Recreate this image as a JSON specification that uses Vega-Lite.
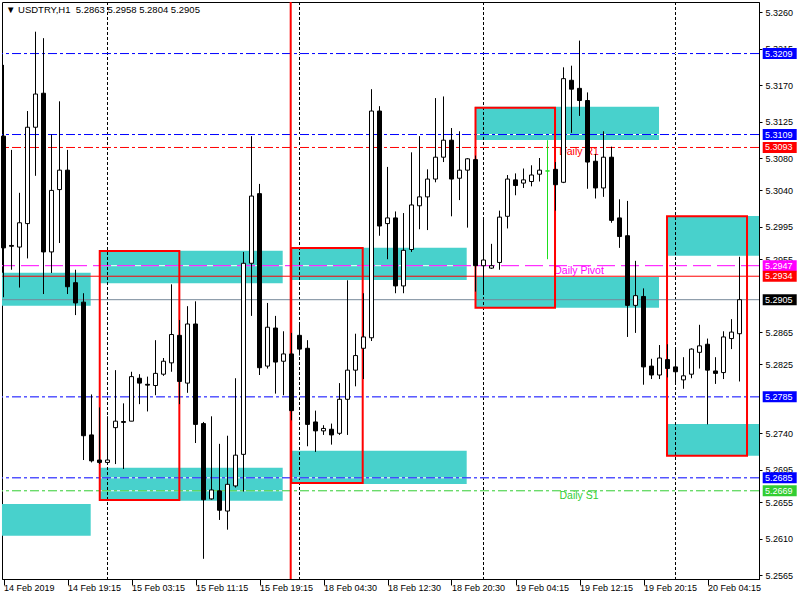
{
  "$schema": "https://vega.github.io/schema/vega-lite/v6.json",
  "width": 757,
  "height": 577,
  "autosize": "none",
  "padding": {"left": 2, "top": 2, "right": 41, "bottom": 21},
  "background": "white",
  "title": {"text": "▼ USDTRY,H1\u00a0\u00a05.2863 5.2958 5.2804 5.2905", "anchor": "start", "frame": "group", "offset": -13, "dx": 4, "font": "Liberation Sans", "fontSize": 9.5, "fontWeight": "normal", "color": "black"},
  "config": {
    "view": {"stroke": "black", "strokeWidth": 1},
    "axis": {"grid": false, "domainColor": "black", "tickColor": "black", "labelColor": "black", "labelFont": "Liberation Sans", "labelFontSize": 9}
  },
  "datasets": {
    "candles": [
      {"i":0,"o":5.3107,"h":5.3195,"l":5.2908,"c":5.2969},
      {"i":1,"o":5.2972,"h":5.3090,"l":5.2942,"c":5.2971},
      {"i":2,"o":5.2970,"h":5.3037,"l":5.2920,"c":5.3000},
      {"i":3,"o":5.2999,"h":5.3138,"l":5.2956,"c":5.3118},
      {"i":4,"o":5.3118,"h":5.3236,"l":5.3058,"c":5.3159},
      {"i":5,"o":5.3160,"h":5.3228,"l":5.2912,"c":5.2964},
      {"i":6,"o":5.2964,"h":5.3109,"l":5.2938,"c":5.3040},
      {"i":7,"o":5.3041,"h":5.3150,"l":5.2975,"c":5.3065},
      {"i":8,"o":5.3065,"h":5.3090,"l":5.2912,"c":5.2921},
      {"i":9,"o":5.2926,"h":5.2942,"l":5.2886,"c":5.2901},
      {"i":10,"o":5.2902,"h":5.2913,"l":5.2707,"c":5.2737},
      {"i":11,"o":5.2738,"h":5.2788,"l":5.2704,"c":5.2706},
      {"i":12,"o":5.2707,"h":5.2772,"l":5.2702,"c":5.2704},
      {"i":13,"o":5.2704,"h":5.2761,"l":5.2701,"c":5.2707},
      {"i":14,"o":5.2747,"h":5.2818,"l":5.2702,"c":5.2755},
      {"i":15,"o":5.27545,"h":5.2777,"l":5.2696,"c":5.27535},
      {"i":16,"o":5.2755,"h":5.2816,"l":5.2755,"c":5.2810},
      {"i":17,"o":5.2808,"h":5.2813,"l":5.2776,"c":5.2802},
      {"i":18,"o":5.28005,"h":5.2810,"l":5.2767,"c":5.27995},
      {"i":19,"o":5.2799,"h":5.2855,"l":5.2787,"c":5.2814},
      {"i":20,"o":5.2813,"h":5.2833,"l":5.2811,"c":5.2829},
      {"i":21,"o":5.2827,"h":5.2924,"l":5.2816,"c":5.2862},
      {"i":22,"o":5.2861,"h":5.2880,"l":5.2776,"c":5.2804},
      {"i":23,"o":5.2802,"h":5.2897,"l":5.2790,"c":5.2875},
      {"i":24,"o":5.2875,"h":5.2903,"l":5.2728,"c":5.2751},
      {"i":25,"o":5.2752,"h":5.2754,"l":5.2585,"c":5.2658},
      {"i":26,"o":5.2659,"h":5.2761,"l":5.2658,"c":5.2670},
      {"i":27,"o":5.2669,"h":5.2727,"l":5.2633,"c":5.2645},
      {"i":28,"o":5.2644,"h":5.2737,"l":5.2621,"c":5.2677},
      {"i":29,"o":5.2675,"h":5.2808,"l":5.2673,"c":5.2713},
      {"i":30,"o":5.2714,"h":5.2964,"l":5.2668,"c":5.2950},
      {"i":31,"o":5.2950,"h":5.3107,"l":5.2885,"c":5.3033},
      {"i":32,"o":5.3036,"h":5.3048,"l":5.2812,"c":5.2821},
      {"i":33,"o":5.2823,"h":5.2901,"l":5.2820,"c":5.2871},
      {"i":34,"o":5.2870,"h":5.2885,"l":5.2789,"c":5.2828},
      {"i":35,"o":5.2829,"h":5.2866,"l":5.2787,"c":5.2838},
      {"i":36,"o":5.2838,"h":5.2864,"l":5.2756,"c":5.2768},
      {"i":37,"o":5.2861,"h":5.2874,"l":5.2836,"c":5.2844},
      {"i":38,"o":5.2845,"h":5.2855,"l":5.2724,"c":5.2751},
      {"i":39,"o":5.2754,"h":5.2768,"l":5.2717,"c":5.2743},
      {"i":40,"o":5.2743,"h":5.2750,"l":5.2738,"c":5.2746},
      {"i":41,"o":5.2745,"h":5.2752,"l":5.2726,"c":5.2738},
      {"i":42,"o":5.2740,"h":5.2802,"l":5.2738,"c":5.2782},
      {"i":43,"o":5.2782,"h":5.2929,"l":5.2738,"c":5.2818},
      {"i":44,"o":5.2818,"h":5.2863,"l":5.2798,"c":5.2836},
      {"i":45,"o":5.2845,"h":5.2913,"l":5.2807,"c":5.2859},
      {"i":46,"o":5.2858,"h":5.3165,"l":5.2854,"c":5.3138},
      {"i":47,"o":5.3138,"h":5.3144,"l":5.2984,"c":5.2996},
      {"i":48,"o":5.2999,"h":5.3069,"l":5.2955,"c":5.3006},
      {"i":49,"o":5.3006,"h":5.3014,"l":5.2913,"c":5.2922},
      {"i":50,"o":5.2922,"h":5.3012,"l":5.2913,"c":5.2966},
      {"i":51,"o":5.2967,"h":5.3087,"l":5.2964,"c":5.3022},
      {"i":52,"o":5.3021,"h":5.3107,"l":5.2992,"c":5.3032},
      {"i":53,"o":5.3032,"h":5.3066,"l":5.2991,"c":5.3054},
      {"i":54,"o":5.3054,"h":5.3154,"l":5.3050,"c":5.3081},
      {"i":55,"o":5.3081,"h":5.3156,"l":5.3075,"c":5.3102},
      {"i":56,"o":5.3102,"h":5.3117,"l":5.3008,"c":5.3054},
      {"i":57,"o":5.3055,"h":5.3113,"l":5.3028,"c":5.3065},
      {"i":58,"o":5.3065,"h":5.3080,"l":5.2994,"c":5.3079},
      {"i":59,"o":5.3078,"h":5.3083,"l":5.2915,"c":5.2947},
      {"i":60,"o":5.2947,"h":5.3007,"l":5.2912,"c":5.2954},
      {"i":61,"o":5.2944,"h":5.2974,"l":5.2943,"c":5.2947},
      {"i":62,"o":5.2951,"h":5.3015,"l":5.2942,"c":5.3007},
      {"i":63,"o":5.3008,"h":5.3059,"l":5.2993,"c":5.3054},
      {"i":64,"o":5.3053,"h":5.3061,"l":5.3034,"c":5.3046},
      {"i":65,"o":5.3049,"h":5.3067,"l":5.3043,"c":5.3053},
      {"i":66,"o":5.3051,"h":5.3071,"l":5.3045,"c":5.3059},
      {"i":67,"o":5.3060,"h":5.3080,"l":5.3051,"c":5.3065},
      {"i":68,"o":5.3064,"h":5.3102,"l":5.2955,"c":5.3064},
      {"i":69,"o":5.3066,"h":5.3075,"l":5.3015,"c":5.3047},
      {"i":70,"o":5.3050,"h":5.3192,"l":5.3049,"c":5.3178},
      {"i":71,"o":5.3176,"h":5.3194,"l":5.3111,"c":5.3165},
      {"i":72,"o":5.3166,"h":5.3225,"l":5.3132,"c":5.3151},
      {"i":73,"o":5.3151,"h":5.3161,"l":5.3042,"c":5.3075},
      {"i":74,"o":5.3076,"h":5.3085,"l":5.3030,"c":5.3043},
      {"i":75,"o":5.3043,"h":5.3113,"l":5.3032,"c":5.3081},
      {"i":76,"o":5.3081,"h":5.3094,"l":5.3000,"c":5.3003},
      {"i":77,"o":5.3006,"h":5.3029,"l":5.2969,"c":5.2983},
      {"i":78,"o":5.2984,"h":5.3027,"l":5.2859,"c":5.2898},
      {"i":79,"o":5.2898,"h":5.2953,"l":5.2864,"c":5.2910},
      {"i":80,"o":5.2909,"h":5.2919,"l":5.2800,"c":5.2822},
      {"i":81,"o":5.2823,"h":5.2832,"l":5.2807,"c":5.2812},
      {"i":82,"o":5.2812,"h":5.2849,"l":5.2807,"c":5.2833},
      {"i":83,"o":5.2831,"h":5.2850,"l":5.2809,"c":5.2820},
      {"i":84,"o":5.2822,"h":5.2843,"l":5.2803,"c":5.2816},
      {"i":85,"o":5.2806,"h":5.2834,"l":5.2795,"c":5.2811},
      {"i":86,"o":5.2813,"h":5.2845,"l":5.2808,"c":5.2844},
      {"i":87,"o":5.2840,"h":5.2874,"l":5.2820,"c":5.2848},
      {"i":88,"o":5.2850,"h":5.2857,"l":5.2751,"c":5.2818},
      {"i":89,"o":5.2817,"h":5.2834,"l":5.2801,"c":5.2814},
      {"i":90,"o":5.2815,"h":5.2866,"l":5.2807,"c":5.2859},
      {"i":91,"o":5.2857,"h":5.2881,"l":5.2844,"c":5.2865},
      {"i":92,"o":5.2863,"h":5.2958,"l":5.2804,"c":5.2905}
    ],
    "zones": [
      {"x1":-0.19,"x2":10.9,"lo":5.28976,"hi":5.29383},
      {"x1":-0.19,"x2":10.9,"lo":5.26135,"hi":5.26527},
      {"x1":12.06,"x2":34.9,"lo":5.29253,"hi":5.29655},
      {"x1":12.06,"x2":34.9,"lo":5.26568,"hi":5.26975},
      {"x1":36.03,"x2":57.9,"lo":5.29293,"hi":5.29692},
      {"x1":36.03,"x2":57.9,"lo":5.26774,"hi":5.27185},
      {"x1":58.94,"x2":81.94,"lo":5.31022,"hi":5.31434},
      {"x1":58.94,"x2":81.94,"lo":5.28951,"hi":5.29330},
      {"x1":82.94,"x2":94.44,"lo":5.29593,"hi":5.30085},
      {"x1":82.94,"x2":94.44,"lo":5.27123,"hi":5.27515}
    ],
    "boxes": [
      {"x1":12.03,"x2":21.98,"lo":5.26576,"hi":5.29651},
      {"x1":35.97,"x2":44.9,"lo":5.26786,"hi":5.29688},
      {"x1":59.0,"x2":68.94,"lo":5.28951,"hi":5.31421},
      {"x1":82.94,"x2":92.94,"lo":5.27123,"hi":5.30081}
    ],
    "days": [{"i":13},{"i":37},{"i":60},{"i":84}],
    "separator": [{"i":35.9}],
    "levels": [
      {"price":5.3209,"kind":"level"},
      {"price":5.3109,"kind":"level"},
      {"price":5.3093,"kind":"Daily R1"},
      {"price":5.2947,"kind":"Daily Pivot"},
      {"price":5.2934,"kind":"Line"},
      {"price":5.2905,"kind":"Bid"},
      {"price":5.2785,"kind":"level"},
      {"price":5.2685,"kind":"level"},
      {"price":5.2669,"kind":"Daily S1"}
    ],
    "labels": [
      {"text":"Daily R1","price":5.3093,"kind":"Daily R1"},
      {"text":"Daily Pivot","price":5.2947,"kind":"Daily Pivot"},
      {"text":"Daily S1","price":5.2669,"kind":"Daily S1"}
    ]
  },
  "layer": [
    {
      "data": {"name": "zones"},
      "mark": {"type": "rect", "fill": "#48D1CC"},
      "encoding": {
        "x": {"field": "x1", "type": "quantitative", "title": null,
          "scale": {"domain": [-0.1875, 94.4375], "nice": false, "zero": false, "padding": 0},
          "axis": {"orient": "bottom", "values": [0,8,16,24,32,40,48,56,64,72,80,88],
            "labelExpr": "['14 Feb 2019','14 Feb 19:15','15 Feb 03:15','15 Feb 11:15','15 Feb 19:15','18 Feb 04:30','18 Feb 12:30','18 Feb 20:30','19 Feb 04:15','19 Feb 12:15','19 Feb 20:15','20 Feb 04:15'][round(datum.value/8)]",
            "labelAlign": "left", "labelDx": 1.5, "labelBaseline": "top", "tickSize": 6, "labelPadding": -2,
            "labelFlush": false, "labelOverlap": false, "labelBound": false}},
        "x2": {"field": "x2"},
        "y": {"field": "lo", "type": "quantitative", "title": null,
          "scale": {"domain": [5.256006, 5.327267], "nice": false, "zero": false, "padding": 0},
          "axis": {"orient": "right", "values": [5.3260,5.3215,5.3170,5.3125,5.3080,5.3040,5.2995,5.2955,5.2865,5.2825,5.2740,5.2695,5.2655,5.2610,5.2565],
            "format": ".4f", "tickSize": 3, "labelPadding": 3, "labelBaseline": "middle", "labelOverlap": false, "labelBound": false, "labelFlush": false}},
        "y2": {"field": "hi"}
      }
    },
    {
      "data": {"name": "days"},
      "mark": {"type": "rule", "color": "black", "strokeWidth": 1, "strokeDash": [3, 2]},
      "encoding": {"x": {"field": "i", "type": "quantitative", "title": null}}
    },
    {
      "data": {"name": "levels"},
      "transform": [{"filter": "datum.kind != 'Bid' && datum.kind != 'Line'"}],
      "mark": {"type": "rule", "color": "white", "strokeWidth": 1},
      "encoding": {"y": {"field": "price", "type": "quantitative", "title": null}}
    },
    {
      "data": {"name": "levels"},
      "mark": {"type": "rule", "strokeWidth": 1},
      "encoding": {
        "y": {"field": "price", "type": "quantitative", "title": null},
        "stroke": {"field": "kind", "type": "nominal", "legend": null,
          "scale": {"domain": ["level","Daily R1","Daily Pivot","Line","Bid","Daily S1"], "range": ["#0000FF","#FF0000","#FF00FF","#FF0000","#778899","#32CD32"]}},
        "strokeDash": {"field": "kind", "type": "nominal", "legend": null,
          "scale": {"domain": ["level","Daily R1","Daily Pivot","Line","Bid","Daily S1"], "range": [[9,3,3,3],[9,3,3,3],[18,6],[1,0],[1,0],[9,3,3,3]]}}
      }
    },
    {
      "data": {"name": "separator"},
      "mark": {"type": "rule", "color": "#FF0000", "strokeWidth": 2},
      "encoding": {"x": {"field": "i", "type": "quantitative", "title": null}}
    },
    {
      "data": {"name": "labels"},
      "mark": {"type": "text", "align": "center", "baseline": "top", "font": "Liberation Sans", "fontSize": 10.5, "dy": 0},
      "encoding": {
        "x": {"datum": 71.94, "type": "quantitative"},
        "y": {"field": "price", "type": "quantitative", "title": null},
        "text": {"field": "text"},
        "fill": {"field": "kind", "type": "nominal", "legend": null,
          "scale": {"domain": ["level","Daily R1","Daily Pivot","Line","Bid","Daily S1"], "range": ["#0000FF","#FF0000","#FF00FF","#FF0000","#000000","#32CD32"]}}
      }
    },
    {
      "data": {"name": "boxes"},
      "mark": {"type": "rect", "fill": "transparent", "stroke": "#FF0000", "strokeWidth": 2},
      "encoding": {
        "x": {"field": "x1", "type": "quantitative", "title": null},
        "x2": {"field": "x2"},
        "y": {"field": "lo", "type": "quantitative", "title": null},
        "y2": {"field": "hi"}
      }
    },
    {
      "data": {"name": "candles"},
      "mark": {"type": "rule", "strokeWidth": 1},
      "encoding": {
        "x": {"field": "i", "type": "quantitative", "title": null},
        "y": {"field": "l", "type": "quantitative", "title": null},
        "y2": {"field": "h"},
        "stroke": {"condition": {"test": "datum.o == datum.c", "value": "#1EE01E"}, "value": "black"}
      }
    },
    {
      "data": {"name": "candles"},
      "mark": {"type": "bar", "size": 4, "strokeWidth": 1},
      "encoding": {
        "x": {"field": "i", "type": "quantitative", "title": null},
        "y": {"field": "o", "type": "quantitative", "title": null},
        "y2": {"field": "c"},
        "fill": {"condition": [{"test": "datum.c > datum.o", "value": "white"}, {"test": "datum.c < datum.o", "value": "black"}], "value": "#1EE01E"},
        "stroke": {"condition": {"test": "datum.o == datum.c", "value": "#1EE01E"}, "value": "black"}
      }
    },
    {
      "data": {"name": "levels"},
      "mark": {"type": "rect", "height": 11},
      "encoding": {
        "x": {"datum": 94.9, "type": "quantitative"},
        "x2": {"datum": 99.15},
        "y": {"field": "price", "type": "quantitative", "title": null},
        "fill": {"field": "kind", "type": "nominal", "legend": null,
          "scale": {"domain": ["level","Daily R1","Daily Pivot","Line","Bid","Daily S1"], "range": ["#0000FF","#FF0000","#FF00FF","#FF0000","#000000","#32CD32"]}}
      }
    },
    {
      "data": {"name": "levels"},
      "mark": {"type": "text", "align": "left", "baseline": "middle", "font": "Liberation Sans", "fontSize": 9, "fill": "white"},
      "encoding": {
        "x": {"datum": 95.2, "type": "quantitative"},
        "y": {"field": "price", "type": "quantitative", "title": null},
        "text": {"field": "price", "type": "quantitative", "format": ".4f"}
      }
    }
  ]
}
